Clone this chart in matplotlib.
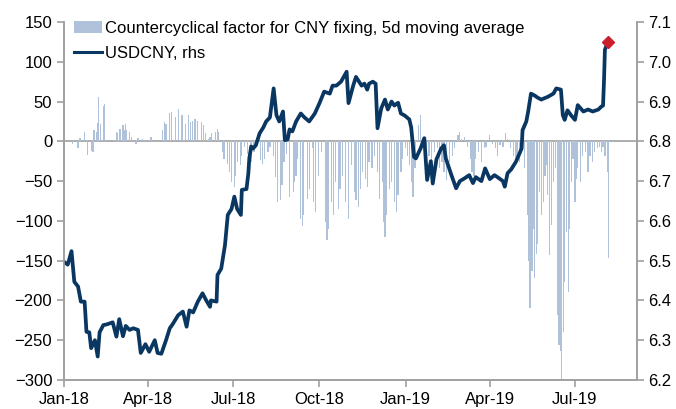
import numpy as np
import pandas as pd
import matplotlib
matplotlib.use("Agg")
import matplotlib.pyplot as plt
import matplotlib.dates as mdates
from matplotlib.patches import Patch
from matplotlib.lines import Line2D

plt.rcParams['font.family'] = ['Liberation Sans', 'DejaVu Sans']

# countercyclical factor, 5d moving average (lhs)
cc_dates_2018 = [
    "2018-01-10", "2018-01-16", "2018-01-18", "2018-01-23", "2018-01-26", "2018-01-30",
    "2018-02-01", "2018-02-02", "2018-02-05", "2018-02-06", "2018-02-07", "2018-02-09",
    "2018-02-12", "2018-02-13", "2018-02-26", "2018-02-27", "2018-03-01", "2018-03-02",
    "2018-03-05", "2018-03-06", "2018-03-08", "2018-03-09", "2018-03-12", "2018-03-14",
    "2018-03-19", "2018-03-21", "2018-03-26", "2018-03-28", "2018-04-02", "2018-04-04",
    "2018-04-09", "2018-04-11", "2018-04-16", "2018-04-18", "2018-04-20", "2018-04-24",
    "2018-04-26", "2018-04-30", "2018-05-03", "2018-05-07", "2018-05-08", "2018-05-11",
    "2018-05-14", "2018-05-16", "2018-05-18", "2018-05-21", "2018-05-24", "2018-05-28",
    "2018-05-30", "2018-06-01", "2018-06-04", "2018-06-06", "2018-06-08", "2018-06-12",
    "2018-06-14", "2018-06-15", "2018-06-19", "2018-06-21", "2018-06-25", "2018-06-27",
    "2018-06-29", "2018-07-02", "2018-07-03", "2018-07-05", "2018-07-09", "2018-07-10",
    "2018-07-13", "2018-07-16", "2018-07-19", "2018-07-20", "2018-07-23", "2018-07-26",
    "2018-07-30", "2018-08-01", "2018-08-03", "2018-08-07", "2018-08-09", "2018-08-13",
    "2018-08-15", "2018-08-17", "2018-08-20", "2018-08-22", "2018-08-24", "2018-08-27",
    "2018-08-30", "2018-09-03", "2018-09-04", "2018-09-06", "2018-09-07", "2018-09-11",
    "2018-09-13", "2018-09-14", "2018-09-18", "2018-09-20", "2018-09-24", "2018-09-25",
    "2018-09-27", "2018-09-30", "2018-10-03", "2018-10-08", "2018-10-09", "2018-10-11",
    "2018-10-14", "2018-10-16", "2018-10-18", "2018-10-21", "2018-10-23", "2018-10-26",
    "2018-10-29", "2018-11-01", "2018-11-04", "2018-11-07", "2018-11-09", "2018-11-12",
    "2018-11-14", "2018-11-16", "2018-11-19", "2018-11-21", "2018-11-23", "2018-11-26",
    "2018-11-29", "2018-12-02", "2018-12-04", "2018-12-07", "2018-12-09", "2018-12-10",
    "2018-12-12", "2018-12-15", "2018-12-17", "2018-12-20", "2018-12-22", "2018-12-24",
    "2018-12-27", "2018-12-29",
]
cc_vals_2018 = [
    -3, -9, 4, 12, -17, -12,
    -14, 14, 12, 23, 56, 22,
    44, 47, 12, 10, 16, 16,
    20, 14, 22, 14, 12, 5,
    -3, 4, 3, 2, 2, 5,
    1, -1, 14, 24, 22, 35,
    37, 31, 41, 33, 28, 22,
    33, 24, 26, 28, 26, 24,
    20, 10, 3, 5, 10, 12,
    16, 12, -13, -22, -28, -38,
    -51, -57, -43, -26, -30, -18,
    -7, -16, -10, -26, -13, -7,
    -24, -28, -22, -13, -7, -18,
    -45, -76, -74, -55, -26, -16,
    -70, -64, -51, -43, -22, -97,
    -107, -92, -72, -60, -9, -76,
    -89, -43, -13, -101, -124, -110,
    -76, -93, -51, -85, -60, -43,
    -76, -97, -30, -64, -74, -82,
    -60, -39, -47, -57, -26, -34,
    -18, -39, -72, -51, -101, -120,
    -93, -60, -51, -76, -89, -68,
    -39, -22,
]
cc_dates_2019 = [
    "2019-01-01", "2019-01-03", "2019-01-05", "2019-01-07", "2019-01-09", "2019-01-11",
    "2019-01-15", "2019-01-17", "2019-01-19", "2019-01-23", "2019-01-26", "2019-01-29",
    "2019-02-01", "2019-02-04", "2019-02-06", "2019-02-09", "2019-02-11", "2019-02-14",
    "2019-02-17", "2019-02-20", "2019-02-22", "2019-02-26", "2019-02-28", "2019-03-02",
    "2019-03-05", "2019-03-08", "2019-03-12", "2019-03-13", "2019-03-15", "2019-03-17",
    "2019-03-20", "2019-03-23", "2019-03-26", "2019-03-28", "2019-04-01", "2019-04-04",
    "2019-04-07", "2019-04-09", "2019-04-12", "2019-04-15", "2019-04-18", "2019-04-20",
    "2019-04-23", "2019-04-26", "2019-04-29", "2019-05-01", "2019-05-03", "2019-05-06",
    "2019-05-08", "2019-05-11", "2019-05-13", "2019-05-14", "2019-05-16", "2019-05-18",
    "2019-05-19", "2019-05-21", "2019-05-22", "2019-05-24", "2019-05-26", "2019-05-28",
    "2019-05-30", "2019-06-01", "2019-06-02", "2019-06-04", "2019-06-06", "2019-06-08",
    "2019-06-10", "2019-06-12", "2019-06-14", "2019-06-16", "2019-06-17", "2019-06-19",
    "2019-06-20", "2019-06-22", "2019-06-24", "2019-06-25", "2019-06-27", "2019-06-29",
    "2019-07-01", "2019-07-02", "2019-07-04", "2019-07-07", "2019-07-09", "2019-07-12",
    "2019-07-15", "2019-07-17", "2019-07-20", "2019-07-22", "2019-07-25", "2019-07-27",
    "2019-07-29", "2019-07-31", "2019-08-02", "2019-08-05", "2019-08-06",
]
cc_vals_2019 = [
    -9, -18, -30, -51, -70, -34,
    20, 33, -9, -7, -18, -26,
    -13, -9, -34, -26, -39, -49,
    -26, -18, -9, 8, 12, 3,
    6, -7, -22, -39, -43, -22,
    -13, -26, -9, -7, 8, -3,
    -9, -18, -5, -7, 10, 3,
    -9, -18, -26, -18, -26, -9,
    -34, -93, -151, -210, -163, -110,
    -172, -141, -129, -64, -93, -76,
    -43, -30, -68, -143, -105, -51,
    -34, -218, -256, -264, -300, -240,
    -177, -114, -189, -110, -51, -22,
    -76, -47, -34, -51, -18, -13,
    -39, -18, -26, -13, -9, -7,
    -13, -7, -18, -39, -147,
]

# USDCNY (rhs)
fx_dates_2018 = [
    "2018-01-01", "2018-01-05", "2018-01-09", "2018-01-12", "2018-01-16", "2018-01-19",
    "2018-01-23", "2018-01-25", "2018-01-28", "2018-01-30", "2018-02-03", "2018-02-06",
    "2018-02-08", "2018-02-12", "2018-02-16", "2018-02-22", "2018-02-26", "2018-03-01",
    "2018-03-05", "2018-03-08", "2018-03-12", "2018-03-16", "2018-03-21", "2018-03-24",
    "2018-03-29", "2018-04-02", "2018-04-08", "2018-04-11", "2018-04-15", "2018-04-20",
    "2018-04-24", "2018-04-27", "2018-05-03", "2018-05-08", "2018-05-12", "2018-05-15",
    "2018-05-19", "2018-05-24", "2018-05-29", "2018-06-02", "2018-06-06", "2018-06-07",
    "2018-06-13", "2018-06-14", "2018-06-18", "2018-06-22", "2018-06-25", "2018-06-29",
    "2018-07-02", "2018-07-05", "2018-07-09", "2018-07-10", "2018-07-15", "2018-07-17",
    "2018-07-18", "2018-07-20", "2018-07-22", "2018-07-25", "2018-07-29", "2018-08-02",
    "2018-08-05", "2018-08-09", "2018-08-13", "2018-08-16", "2018-08-19", "2018-08-23",
    "2018-08-25", "2018-08-28", "2018-08-30", "2018-09-02", "2018-09-06", "2018-09-11",
    "2018-09-15", "2018-09-20", "2018-09-26", "2018-10-01", "2018-10-06", "2018-10-12",
    "2018-10-15", "2018-10-19", "2018-10-24", "2018-10-30", "2018-11-01", "2018-11-06",
    "2018-11-09", "2018-11-15", "2018-11-18", "2018-11-21", "2018-11-23", "2018-11-27",
    "2018-11-30", "2018-12-02", "2018-12-06", "2018-12-10", "2018-12-13", "2018-12-17",
    "2018-12-20", "2018-12-24", "2018-12-27", "2018-12-31",
]
fx_vals_2018 = [
    6.497, 6.49, 6.524, 6.447, 6.435, 6.397,
    6.397, 6.321, 6.32, 6.28, 6.30, 6.259,
    6.32, 6.338, 6.34, 6.345, 6.309, 6.353,
    6.31, 6.336, 6.326, 6.33, 6.326, 6.268,
    6.29, 6.271, 6.30, 6.268, 6.266, 6.30,
    6.33, 6.34, 6.363, 6.372, 6.334, 6.375,
    6.37, 6.397, 6.418, 6.40, 6.384, 6.40,
    6.397, 6.464, 6.48, 6.539, 6.615, 6.63,
    6.661, 6.63, 6.615, 6.678, 6.68, 6.72,
    6.757, 6.787, 6.782, 6.79, 6.82, 6.835,
    6.85, 6.86, 6.933, 6.866, 6.85, 6.875,
    6.803, 6.805, 6.83, 6.825, 6.85, 6.87,
    6.86, 6.85, 6.87, 6.896, 6.925, 6.92,
    6.94, 6.94, 6.95, 6.975, 6.896, 6.94,
    6.962, 6.94, 6.945, 6.93, 6.945, 6.95,
    6.945, 6.833, 6.883, 6.905, 6.88, 6.90,
    6.89, 6.897, 6.87, 6.865,
]
fx_dates_2019 = [
    "2019-01-05", "2019-01-07", "2019-01-10", "2019-01-12", "2019-01-17", "2019-01-21",
    "2019-01-24", "2019-01-28", "2019-01-30", "2019-02-03", "2019-02-08", "2019-02-11",
    "2019-02-13", "2019-02-19", "2019-02-24", "2019-02-28", "2019-03-05", "2019-03-10",
    "2019-03-14", "2019-03-17", "2019-03-23", "2019-03-27", "2019-04-01", "2019-04-06",
    "2019-04-11", "2019-04-15", "2019-04-17", "2019-04-20", "2019-04-24", "2019-04-29",
    "2019-05-05", "2019-05-06", "2019-05-10", "2019-05-12", "2019-05-15", "2019-05-19",
    "2019-05-22", "2019-05-26", "2019-06-02", "2019-06-08", "2019-06-11", "2019-06-16",
    "2019-06-18", "2019-06-20", "2019-06-23", "2019-06-27", "2019-07-01", "2019-07-04",
    "2019-07-10", "2019-07-15", "2019-07-20", "2019-07-26", "2019-07-29", "2019-07-31",
    "2019-08-01", "2019-08-02", "2019-08-05",
]
fx_vals_2019 = [
    6.855, 6.835, 6.761, 6.757, 6.782, 6.808,
    6.703, 6.75, 6.694, 6.755, 6.782, 6.79,
    6.757, 6.715, 6.682, 6.70, 6.707, 6.715,
    6.695, 6.71, 6.70, 6.732, 6.705, 6.715,
    6.707, 6.70, 6.686, 6.72, 6.73, 6.749,
    6.782, 6.828, 6.85, 6.875, 6.92, 6.915,
    6.91, 6.905, 6.912, 6.92, 6.933, 6.93,
    6.866, 6.854, 6.878, 6.865, 6.854, 6.891,
    6.875, 6.88, 6.875, 6.88, 6.887, 6.89,
    6.95, 7.03, 7.05,
]

cc_dates = pd.to_datetime(cc_dates_2018 + cc_dates_2019)
cc_vals = np.array(cc_vals_2018 + cc_vals_2019)
fx_dates = pd.to_datetime(fx_dates_2018 + fx_dates_2019)
fx_vals = np.array(fx_vals_2018 + fx_vals_2019)

bar_col = '#afc2da'
line_col = '#0a3762'
grey = '#a0a0a0'

fig = plt.figure(figsize=(6.76, 4.09), dpi=100)
ax = fig.add_axes([0.0947, 0.0709, 0.8472, 0.8753])
ax2 = ax.twinx()

ax.bar(cc_dates, cc_vals, width=1.3, color=bar_col, linewidth=0, zorder=2)
ax.axhline(0, color=grey, lw=1.2, zorder=1)
ax.set_ylim(-300, 150)
ax.set_yticks(np.arange(-300, 151, 50))

ax2.plot(fx_dates, fx_vals, color=line_col, lw=2.7, solid_joinstyle='round')
ax2.plot(fx_dates[-1:], fx_vals[-1:], marker='D', ms=6.5, color='#c8202c', lw=0)
ax2.set_ylim(6.2, 7.1)
ax2.set_yticks(np.arange(6.2, 7.11, 0.1))
ax2.yaxis.set_major_formatter(plt.FormatStrFormatter('%.1f'))

ax.set_xlim(pd.Timestamp('2018-01-01'), pd.Timestamp('2019-09-05'))
ax.xaxis.set_major_locator(mdates.MonthLocator(bymonth=[1, 4, 7, 10]))
ax.xaxis.set_major_formatter(mdates.DateFormatter('%b-%y'))

for a in (ax, ax2):
    a.spines['top'].set_visible(False)
    for s in ('left', 'right', 'bottom'):
        a.spines[s].set_color(grey)
        a.spines[s].set_linewidth(1.2)
    a.tick_params(colors=grey, labelcolor='black', labelsize=12, length=5, width=1.2)

handles = [Patch(facecolor=bar_col, edgecolor='none'),
           Line2D([], [], color=line_col, lw=2.2)]
labels = ['Countercyclical factor for CNY fixing, 5d moving average', 'USDCNY, rhs']
ax2.legend(handles, labels, loc='upper left', bbox_to_anchor=(0.018, 1.004),
           frameon=False, fontsize=12, handlelength=1.65, handletextpad=0.2,
           borderpad=0, borderaxespad=0, labelspacing=0.6)

fig.savefig('out.png', dpi=100)
